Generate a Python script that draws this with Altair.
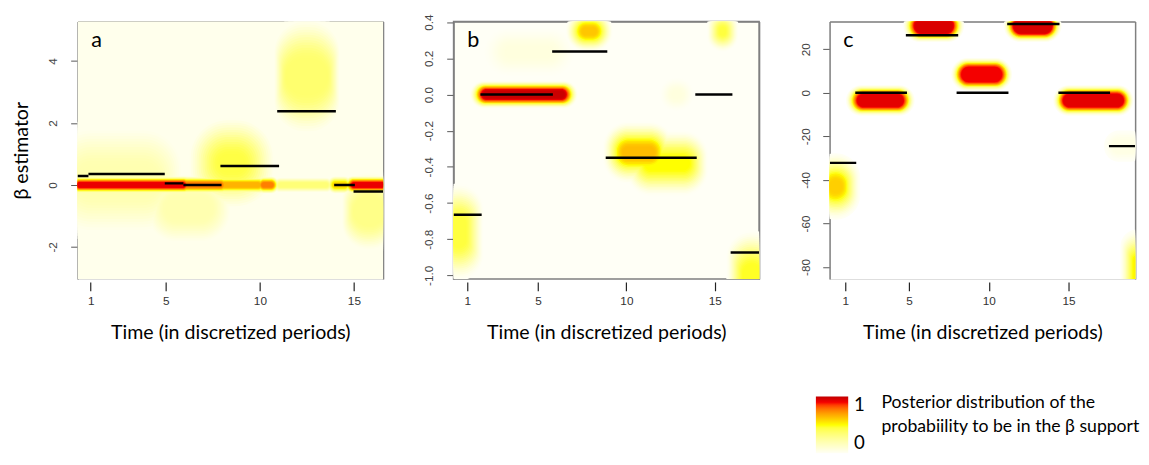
import altair as alt
import pandas as pd

# ---------------- panel a ----------------
a_seg_t0 = [0.30, 0.88, 4.94, 5.93, 7.90, 10.92, 13.95, 14.98]
a_seg_t1 = [0.88, 4.94, 5.93, 7.96, 11.02, 14.04, 15.05, 16.55]
a_seg_beta = [0.29, 0.35, 0.05, 0.0, 0.61, 2.38, 0.0, -0.21]

a_blob_t0 = [0.3, 0.3, 7.8, 5.0, 11.4, 15.0, 0.3, 6.0, 8.0, 10.1, 11.0, 13.9, 14.9]
a_blob_t1 = [16.6, 4.5, 9.2, 7.4, 13.6, 16.6, 6.0, 8.0, 10.0, 10.7, 13.6, 14.6, 16.6]
a_blob_lo = [-3.1, -0.3, 0.4, -1.1, 2.9, -1.3, -0.07, -0.07, -0.07, -0.07, -0.06, -0.07, -0.07]
a_blob_hi = [5.3, 0.6, 1.0, -0.4, 4.1, -0.4, 0.07, 0.07, 0.07, 0.07, 0.06, 0.07, 0.07]
a_blob_peak = [0.03, 0.2, 0.44, 0.2, 0.36, 0.3, 0.92, 0.76, 0.66, 0.76, 0.34, 0.58, 0.92]
a_blob_gx = [0.0, 1.8, 1.9, 1.4, 0.8, 0.8, 0.5, 0.5, 0.5, 0.4, 0.4, 0.4, 0.5]
a_blob_gy = [0.0, 1.6, 1.4, 1.0, 1.5, 1.0, 0.25, 0.25, 0.25, 0.25, 0.22, 0.25, 0.25]

# ---------------- panel b ----------------
b_seg_t0 = [0.22, 1.74, 5.80, 8.83, 13.90, 15.90]
b_seg_t1 = [1.81, 5.84, 8.92, 13.98, 16.00, 17.51]
b_seg_beta = [-0.665, 0.0, 0.238, -0.349, 0.0, -0.873]

b_blob_t0 = [0.1, 1.9, 3.2, 7.5, 15.3, 9.8, 11.0, 16.6, 12.6]
b_blob_t1 = [0.9, 6.5, 5.8, 8.3, 15.6, 11.6, 13.6, 17.6, 13.1]
b_blob_lo = [-0.84, -0.02, 0.21, 0.33, 0.33, -0.35, -0.42, -1.08, -0.02]
b_blob_hi = [-0.68, 0.02, 0.26, 0.37, 0.37, -0.29, -0.34, -0.94, 0.02]
b_blob_peak = [0.45, 0.98, 0.07, 0.62, 0.45, 0.64, 0.5, 0.48, 0.07]
b_blob_gx = [1.1, 0.8, 1.4, 1.0, 0.8, 1.2, 1.1, 1.0, 0.8]
b_blob_gy = [0.2, 0.06, 0.12, 0.1, 0.1, 0.15, 0.15, 0.2, 0.08]

# ---------------- panel c ----------------
c_seg_t0 = [0.04, 1.63, 4.80, 7.98, 11.15, 14.36, 17.53]
c_seg_t1 = [1.69, 4.87, 8.08, 11.23, 14.43, 17.60, 19.17]
c_seg_beta = [-32.2, 0.0, 26.4, 0.0, 31.5, 0.0, -24.5]

c_blob_t0 = [0.0, 1.8, 5.4, 8.3, 11.6, 14.7, 19.1, 17.8]
c_blob_t1 = [0.8, 4.6, 7.7, 10.8, 13.9, 18.4, 19.5, 19.2]
c_blob_lo = [-46, -6.3, 27.5, 5.1, 27.5, -6.3, -92, -27]
c_blob_hi = [-40, -0.8, 34, 11.7, 34, -0.8, -76, -22]
c_blob_peak = [0.6, 0.93, 0.95, 0.9, 0.95, 0.93, 0.52, 0.05]
c_blob_gx = [1.2, 0.8, 0.8, 0.7, 0.7, 0.7, 0.9, 0.6]
c_blob_gy = [13, 4.5, 4.5, 4.5, 4.5, 4.5, 14, 5]

x_ticks = [1, 5, 10, 15]
a_yticks = [-2, 0, 2, 4]
b_yticks = [-1.0, -0.8, -0.6, -0.4, -0.2, 0.0, 0.2, 0.4]
c_yticks = [-80, -60, -40, -20, 0, 20]

legend_text = ["Posterior distribution of the", "probabiility to be in the \u03b2 support"]

W, H = 312, 263
N_LEVELS = 18


def heat_table(t0, t1, lo, hi, peak, gx, gy, xdom, ydom):
    pxt = W / (xdom[1] - xdom[0])
    pxb = H / (ydom[1] - ydom[0])
    rows = []
    for i in range(len(t0)):
        soft = gx[i] > 0 and gy[i] > 0
        core_r = min((t1[i] - t0[i]) * pxt, (hi[i] - lo[i]) * pxb) / 2 if soft else 0.0
        levels = range(1, N_LEVELS + 1) if soft else [N_LEVELS]
        for k in levels:
            s = k / N_LEVELS
            e = 1 - s
            x0, x1 = t0[i] - gx[i] * e, t1[i] + gx[i] * e
            y0, y1 = lo[i] - gy[i] * e, hi[i] + gy[i] * e
            wpx, hpx = (x1 - x0) * pxt, (y1 - y0) * pxb
            r = min(gx[i] * pxt * e, gy[i] * pxb * e) + core_r
            r = max(0.0, min(r, wpx / 2, hpx / 2))
            rows.append(dict(x=x0, x2=x1, y=y0, y2=y1, r=r,
                             v=peak[i] * (3 * s * s - 2 * s ** 3)))
    return pd.DataFrame(rows).sort_values("v").reset_index(drop=True)


def seg_table(t0, t1, beta):
    return pd.DataFrame({"t0": t0, "t1": t1, "beta": beta})


color_scale = alt.Scale(domain=[0, 0.2, 0.5, 0.7, 0.88, 1.0],
                        range=["#fffff6", "#ffffb0", "#ffff00", "#ffa000", "#ff0000", "#c00000"])

legend = alt.Legend(
    orient="none", legendX=754, legendY=383, direction="vertical",
    gradientLength=58, gradientThickness=33, gradientStrokeWidth=0,
    values=[0, 1], format="d", labelFont="Lato", labelFontSize=19, labelColor="black",
    labelOffset=6, labelOverlap=False, title=None,
)

GRAY = "#808080"


def panel(letter, heat_df, seg_df, xdom, ydom, yvals, ylabel_expr, ytitle, boxed, extra=None):
    xs = alt.Scale(domain=xdom, nice=False, zero=False)
    ys = alt.Scale(domain=ydom, nice=False, zero=False)
    yaxis_kw = dict(values=yvals, labelExpr=ylabel_expr, labelAngle=270,
                    labelFont="Liberation Sans", labelFontSize=12, labelColor="#444",
                    labelPadding=11, tickSize=7, tickColor="#555", domain=True,
                    domainColor=GRAY, domainWidth=1.5, grid=False)
    if ytitle:
        yaxis_kw.update(title=ytitle, titleFont="Lato", titleFontSize=20, titleFontWeight="normal",
                        titleColor="black", titlePadding=16)
    else:
        yaxis_kw.update(title=None)
    heat = alt.Chart(heat_df).mark_rect(clip=True, cornerRadius=alt.ExprRef(expr="datum.r")).encode(
        x=alt.X("x:Q", scale=xs, axis=alt.Axis(
            values=x_ticks, format="d", domain=False, offset=3, tickSize=9, tickColor="#222",
            tickWidth=1.2, labelFont="Liberation Sans", labelFontSize=12, labelColor="#333",
            labelPadding=5, grid=False, title="Time (in discretized periods)", titleFont="Lato",
            titleFontSize=20, titleFontWeight="normal", titleColor="black", titlePadding=17)),
        x2="x2:Q",
        y=alt.Y("y:Q", scale=ys, axis=alt.Axis(**yaxis_kw)),
        y2="y2:Q",
        color=alt.Color("v:Q", scale=color_scale, legend=legend),
        order=alt.Order("v:Q"),
    )
    segs = alt.Chart(seg_df).mark_rule(color="black", strokeWidth=2.5, clip=True).encode(
        x=alt.X("t0:Q", scale=xs, axis=alt.Axis(orient="top", labels=False, ticks=False, title=None,
                                                 domainColor=GRAY, domainWidth=1.5, grid=False)),
        x2="t1:Q",
        y=alt.Y("beta:Q", scale=ys, axis=alt.Axis(orient="right", labels=False, ticks=False, title=None,
                                                   domainColor=GRAY, domainWidth=1.5, grid=False)),
    )
    lab = alt.Chart(pd.DataFrame({"lab": [letter]})).mark_text(
        font="Lato", fontSize=22, align="left", baseline="alphabetic", color="black"
    ).encode(x=alt.value(14), y=alt.value(26), text="lab:N")
    layers = [heat, segs, lab]
    if extra is not None:
        layers.append(extra)
    props = dict(width=W, height=H)
    if boxed:
        props["view"] = alt.ViewBackground(stroke=GRAY, strokeWidth=1.5, fill="#fffff6")
    return alt.layer(*layers).resolve_axis(x="independent", y="independent").properties(**props)


num_expr = "(datum.value < 0 ? '-' : '') + format(abs(datum.value), 'd')"
dec_expr = "(datum.value < 0 ? '-' : '') + format(abs(datum.value), '.1f')"

legend_note = alt.Chart(pd.DataFrame({"t": [legend_text]})).mark_text(
    font="Lato", fontSize=18, align="left", baseline="middle", color="black", lineHeight=24
).encode(x=alt.value(53), y=alt.value(390), text="t")

a_dom = ([0.3, 16.55], [-3.04, 5.28])
b_dom = ([0.22, 17.51], [-1.02, 0.404])
c_dom = ([0.02, 19.17], [-85.5, 32.7])

pa = panel("a", heat_table(a_blob_t0, a_blob_t1, a_blob_lo, a_blob_hi, a_blob_peak, a_blob_gx, a_blob_gy, *a_dom),
           seg_table(a_seg_t0, a_seg_t1, a_seg_beta), *a_dom, a_yticks, num_expr,
           "\u03b2 estimator", False)
pb = panel("b", heat_table(b_blob_t0, b_blob_t1, b_blob_lo, b_blob_hi, b_blob_peak, b_blob_gx, b_blob_gy, *b_dom),
           seg_table(b_seg_t0, b_seg_t1, b_seg_beta), *b_dom, b_yticks, dec_expr,
           None, True)
pc = panel("c", heat_table(c_blob_t0, c_blob_t1, c_blob_lo, c_blob_hi, c_blob_peak, c_blob_gx, c_blob_gy, *c_dom),
           seg_table(c_seg_t0, c_seg_t1, c_seg_beta), *c_dom, c_yticks, num_expr,
           None, False, extra=legend_note)

chart = alt.hconcat(pa, pb, pc, spacing=39).resolve_scale(color="shared").properties(
    padding={"left": 3, "top": 0, "right": 0, "bottom": 0}
).configure_view(stroke=None, fill="#fffff6").configure(background="white")

chart.save("out.html", embed_options={"renderer": "svg", "actions": False})
